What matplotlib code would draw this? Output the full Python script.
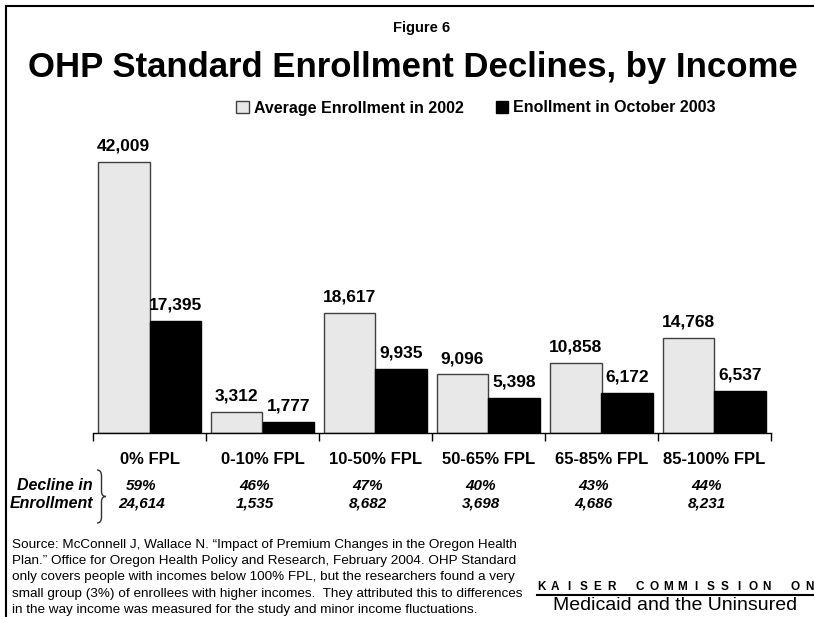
import matplotlib.pyplot as plt
import numpy as np
from matplotlib.patches import Patch, PathPatch
from matplotlib.path import Path
from matplotlib.lines import Line2D

plt.rcParams['font.family'] = ['Liberation Sans', 'DejaVu Sans']

# datos
categorias = ['0% FPL', '0-10% FPL', '10-50% FPL', '50-65% FPL', '65-85% FPL', '85-100% FPL']
inscritos_2002 = [42009, 3312, 18617, 9096, 10858, 14768]
inscritos_oct2003 = [17395, 1777, 9935, 5398, 6172, 6537]
declive_pct = ['59%', '46%', '47%', '40%', '43%', '44%']
declive_num = ['24,614', '1,535', '8,682', '3,698', '4,686', '8,231']

W, H = 814, 617
fig = plt.figure(figsize=(W / 100, H / 100), dpi=100)
ax = fig.add_axes([93 / W, 1 - 433 / H, 678 / W, 290 / H])

x = np.arange(len(categorias))
ancho = 0.46
b1 = ax.bar(x - ancho / 2, inscritos_2002, ancho, color='#E8E8E8', edgecolor='#404040', linewidth=1,
            label='Average Enrollment in 2002')
b2 = ax.bar(x + ancho / 2, inscritos_oct2003, ancho, color='black', edgecolor='black', linewidth=1,
            label='Enollment in October 2003')

for barras in (b1, b2):
    for b in barras:
        ax.annotate(f'{int(b.get_height()):,}', (b.get_x() + b.get_width() / 2, b.get_height()),
                    xytext=(0, 6), textcoords='offset points', ha='center', va='bottom',
                    fontsize=12.5, fontweight='bold')

ax.set_xlim(-0.5, len(categorias) - 0.5)
ax.set_ylim(0, 45000)
for s in ['top', 'right', 'left']:
    ax.spines[s].set_visible(False)
ax.spines['bottom'].set_linewidth(1)
ax.set_yticks([])
ax.set_xticks(np.arange(len(categorias) + 1) - 0.5)
ax.set_xticklabels([])
ax.tick_params(axis='x', direction='out', length=6, width=1)

# etiquetas de categoria y declive
tr = ax.get_xaxis_transform()
for i, c in enumerate(categorias):
    ax.text(i, -27 / 290, c, transform=tr, ha='center', va='center', fontsize=12, fontweight='bold')
    ax.text(i - 0.07, -53 / 290, declive_pct[i], transform=tr, ha='center', va='center',
            fontsize=11, fontweight='bold', style='italic')
    ax.text(i - 0.07, -70 / 290, declive_num[i], transform=tr, ha='center', va='center',
            fontsize=11, fontweight='bold', style='italic')

fig.text(93 / W, 1 - 486 / H, 'Decline in', ha='right', va='center', fontsize=11.5,
         fontweight='bold', style='italic')
fig.text(93 / W, 1 - 503 / H, 'Enrollment', ha='right', va='center', fontsize=11.5,
         fontweight='bold', style='italic')

# llave
def llave(x0, y0, y1, w):
    ym = (y0 + y1) / 2
    xm = x0 + w / 2
    pts = [(x0, y0), (xm, y0), (xm, y0 + 6), (xm, ym - 5), (xm, ym), (x0 + w, ym),
           (xm, ym), (xm, ym + 5), (xm, y1 - 6), (xm, y1), (x0, y1)]
    codes = [Path.MOVETO, Path.CURVE3, Path.CURVE3, Path.LINETO, Path.CURVE3, Path.CURVE3,
             Path.CURVE3, Path.CURVE3, Path.LINETO, Path.CURVE3, Path.CURVE3]
    pts = [(px / W, 1 - py / H) for px, py in pts]
    fig.add_artist(PathPatch(Path(pts, codes), facecolor='none', edgecolor='#303030',
                             linewidth=1, transform=fig.transFigure))

llave(97, 470, 523, 9)

# titulos
fig.text(422 / W, 1 - 28 / H, 'Figure 6', ha='center', va='center', fontsize=10.5, fontweight='bold')
fig.text(413 / W, 1 - 67 / H, 'OHP Standard Enrollment Declines, by Income', ha='center', va='center',
         fontsize=25, fontweight='bold')

fig.legend(handles=[Patch(facecolor='#E8E8E8', edgecolor='#404040', label='Average Enrollment in 2002'),
                    Patch(facecolor='black', edgecolor='black', label='Enollment in October 2003')],
           loc='center', bbox_to_anchor=(476 / W, 1 - 108 / H), ncol=2, frameon=False,
           prop={'weight': 'bold', 'size': 11.5}, handlelength=0.8, handleheight=0.8,
           handletextpad=0.3, columnspacing=2.0)

fuente = ('Source: McConnell J, Wallace N. \u201cImpact of Premium Changes in the Oregon Health\n'
          'Plan.\u201d Office for Oregon Health Policy and Research, February 2004. OHP Standard\n'
          'only covers people with incomes below 100% FPL, but the researchers found a very\n'
          'small group (3%) of enrollees with higher incomes.  They attributed this to differences\n'
          'in the way income was measured for the study and minor income fluctuations.')
fig.text(12 / W, 1 - 539 / H, fuente, ha='left', va='top', fontsize=9.7, linespacing=1.47)

# logo Kaiser
logo = 'KAISER COMMISSION ON'
paso = (809 - 541) / (len(logo) - 1)
for k, letra in enumerate(logo):
    fig.text((541 + k * paso) / W, 1 - 587 / H, letra, ha='center', va='center',
             fontsize=8.5, fontweight='bold')
fig.add_artist(Line2D([537 / W, 813 / W], [1 - 595 / H, 1 - 595 / H], color='black', linewidth=1.5))
fig.text(675 / W, 1 - 605 / H, 'Medicaid and the Uninsured', ha='center', va='center', fontsize=14)

# marco
fig.add_artist(Line2D([6 / W, 6 / W], [0, 1 - 6 / H], color='black', linewidth=1.5))
fig.add_artist(Line2D([6 / W, 1], [1 - 6 / H, 1 - 6 / H], color='black', linewidth=1.5))

fig.savefig('out.png', dpi=100)
